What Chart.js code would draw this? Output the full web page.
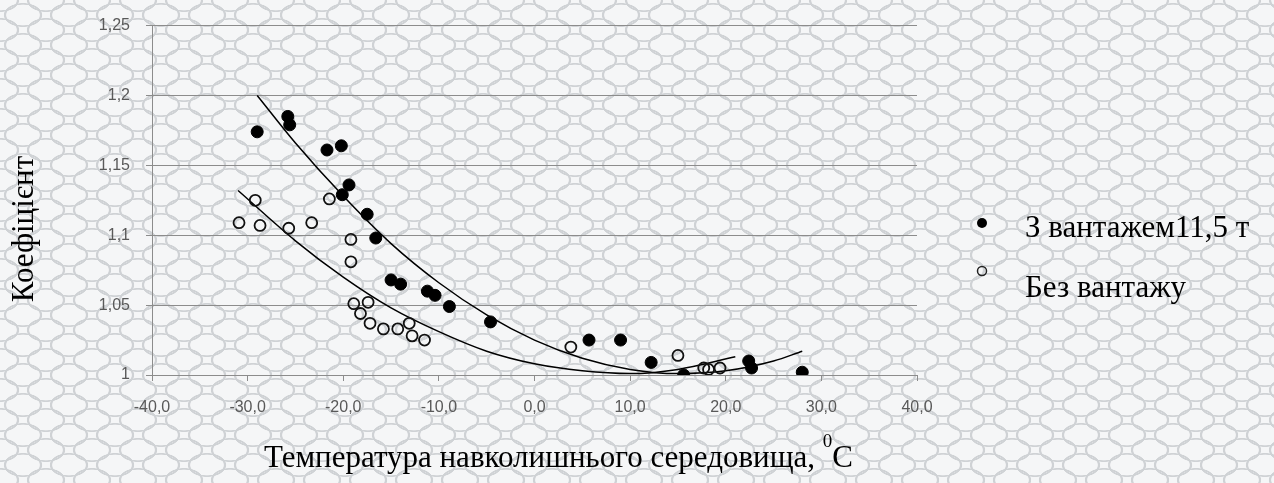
<!DOCTYPE html>
<html>
<head>
<meta charset="utf-8">
<script src="https://cdn.jsdelivr.net/npm/chart.js@4.4.1/dist/chart.umd.min.js"></script>
<style>
  html, body { margin: 0; padding: 0; }
  body {
    width: 1274px; height: 483px; overflow: hidden;
    background-color: #f5f6f7;
    background-image:
      radial-gradient(ellipse 21px 13px at 50% 50%, transparent 78%, #cfd2d5 82%, #cfd2d5 89%, transparent 93%),
      radial-gradient(ellipse 21px 13px at 0% 0%, transparent 78%, #cfd2d5 82%, #cfd2d5 89%, transparent 93%),
      radial-gradient(ellipse 21px 13px at 100% 0%, transparent 78%, #cfd2d5 82%, #cfd2d5 89%, transparent 93%),
      radial-gradient(ellipse 21px 13px at 0% 100%, transparent 78%, #cfd2d5 82%, #cfd2d5 89%, transparent 93%),
      radial-gradient(ellipse 21px 13px at 100% 100%, transparent 78%, #cfd2d5 82%, #cfd2d5 89%, transparent 93%);
    background-size: 46px 30px;
  }
  #wrap { position: absolute; left: 0; top: 0; width: 1274px; height: 483px; }
</style>
</head>
<body>
<div id="wrap"><canvas id="myChart" width="1274" height="483"></canvas></div>
<script>
// Точки: з вантажем 11,5 т (чорні)
const loadedX = [-29.0, -25.8, -25.6, -21.7, -20.2, -19.4, -20.1, -17.5, -16.6, -15.0, -14.0, -11.2, -10.4, -8.9, -4.6, 5.7, 9.0, 12.2, 15.6, 22.4, 22.7, 28.0];
const loadedY = [1.174, 1.185, 1.179, 1.161, 1.164, 1.136, 1.129, 1.115, 1.098, 1.068, 1.065, 1.060, 1.057, 1.049, 1.038, 1.025, 1.025, 1.009, 1.000, 1.010, 1.005, 1.002];

// Точки: без вантажу (порожні)
const emptyX = [-30.9, -29.2, -28.7, -25.7, -23.3, -21.45, -19.2, -19.2, -18.9, -17.4, -18.2, -17.2, -15.8, -14.3, -13.1, -12.8, -11.5, 3.8, 15.0, 17.7, 18.2, 19.4];
const emptyY = [1.109, 1.125, 1.107, 1.105, 1.109, 1.126, 1.097, 1.081, 1.051, 1.052, 1.044, 1.037, 1.033, 1.033, 1.037, 1.028, 1.025, 1.020, 1.014, 1.005, 1.004, 1.005];

// Лінії тренду
const trendLoadedX = [-29, -25, -20, -15, -10, -5, 0, 5, 10, 15, 20, 25, 28];
const trendLoadedY = [1.200, 1.166, 1.128, 1.094, 1.066, 1.043, 1.025, 1.012, 1.004, 1.001, 1.003, 1.010, 1.017];
const trendEmptyX = [-31, -25, -20, -15, -10, -5, 0, 5, 10, 15, 21];
const trendEmptyY = [1.132, 1.096, 1.070, 1.048, 1.031, 1.017, 1.008, 1.003, 1.001, 1.004, 1.013];

const labelLoaded = "З вантажем11,5 т";
const labelEmpty = "Без вантажу";
const titleX = "Температура навколишнього середовища, ";
const titleXSup = "0";
const titleXUnit = "C";
const titleY = "Коефіцієнт";

function pts(xs, ys) {
  return xs.map((x, i) => ({ x: x, y: ys[i] }));
}

const serif = "'Liberation Serif', 'Times New Roman', serif";

// легенда і підписи осей
const textPlugin = {
  id: 'textPlugin',
  afterDraw(chart) {
    const ctx = chart.ctx;
    ctx.save();
    ctx.fillStyle = '#000';
    ctx.textBaseline = 'alphabetic';

    // легенда
    ctx.beginPath(); ctx.arc(982, 223, 5, 0, Math.PI * 2); ctx.fill();
    ctx.strokeStyle = '#222'; ctx.lineWidth = 1.5;
    ctx.beginPath(); ctx.arc(982, 271, 4.5, 0, Math.PI * 2); ctx.stroke();
    ctx.font = "31px " + serif;
    ctx.textAlign = 'left';
    ctx.fillText(labelLoaded, 1025, 237);
    ctx.fillText(labelEmpty, 1025, 297);

    // підпис осі X
    ctx.font = "31px " + serif;
    const w1 = ctx.measureText(titleX).width;
    const wu = ctx.measureText(titleXUnit).width;
    ctx.font = "19px " + serif;
    const ws = ctx.measureText(titleXSup).width;
    const right = 853;
    const start = right - wu - ws - w1;
    ctx.font = "31px " + serif;
    ctx.fillText(titleX, start, 467);
    ctx.font = "19px " + serif;
    ctx.fillText(titleXSup, start + w1, 447);
    ctx.font = "31px " + serif;
    ctx.fillText(titleXUnit, start + w1 + ws, 467);

    // підпис осі Y
    ctx.translate(33, 229);
    ctx.rotate(-Math.PI / 2);
    ctx.textAlign = 'center';
    ctx.font = "31px " + serif;
    ctx.fillText(titleY, 0, 0);
    ctx.restore();
  }
};

const ctx = document.getElementById('myChart');

const myChart = new Chart(ctx, {
  type: 'scatter',
  data: {
    datasets: [
      {
        label: labelLoaded,
        data: pts(loadedX, loadedY),
        pointStyle: 'circle',
        pointRadius: 6,
        pointBackgroundColor: '#000',
        pointBorderColor: '#000',
        pointBorderWidth: 1
      },
      {
        label: labelEmpty,
        data: pts(emptyX, emptyY),
        pointStyle: 'circle',
        pointRadius: 5.5,
        pointBackgroundColor: 'rgba(0,0,0,0)',
        pointBorderColor: '#111',
        pointBorderWidth: 1.8
      },
      {
        label: 'trend1',
        data: pts(trendLoadedX, trendLoadedY),
        showLine: true,
        pointRadius: 0,
        borderColor: '#000',
        borderWidth: 1.5,
        cubicInterpolationMode: 'monotone'
      },
      {
        label: 'trend2',
        data: pts(trendEmptyX, trendEmptyY),
        showLine: true,
        pointRadius: 0,
        borderColor: '#000',
        borderWidth: 1.5,
        cubicInterpolationMode: 'monotone'
      }
    ]
  },
  options: {
    responsive: false,
    animation: false,
    layout: { padding: { left: 0, right: 357, top: 21, bottom: 0 } },
    plugins: {
      legend: { display: false },
      tooltip: { enabled: false }
    },
    scales: {
      x: {
        type: 'linear',
        min: -40,
        max: 40,
        afterFit: s => { s.height = 108; },
        grid: { drawOnChartArea: false, drawTicks: true, tickLength: 6, color: '#8c8c8c' },
        border: { color: '#8c8c8c', width: 1 },
        ticks: {
          stepSize: 10,
          padding: 17,
          color: '#595959',
          font: { family: "'Liberation Sans', Arial, sans-serif", size: 16 },
          callback: v => v.toFixed(1).replace('.', ',')
        }
      },
      y: {
        min: 1,
        max: 1.25,
        afterFit: s => { s.width = 152; },
        grid: { drawOnChartArea: true, drawTicks: true, tickLength: 6, color: '#8c8c8c' },
        border: { color: '#8c8c8c', width: 1 },
        ticks: {
          stepSize: 0.05,
          padding: 16,
          color: '#595959',
          font: { family: "'Liberation Sans', Arial, sans-serif", size: 16 },
          callback: v => String(Math.round(v * 100) / 100).replace('.', ',')
        }
      }
    }
  },
  plugins: [textPlugin]
});
</script>
</body>
</html>
